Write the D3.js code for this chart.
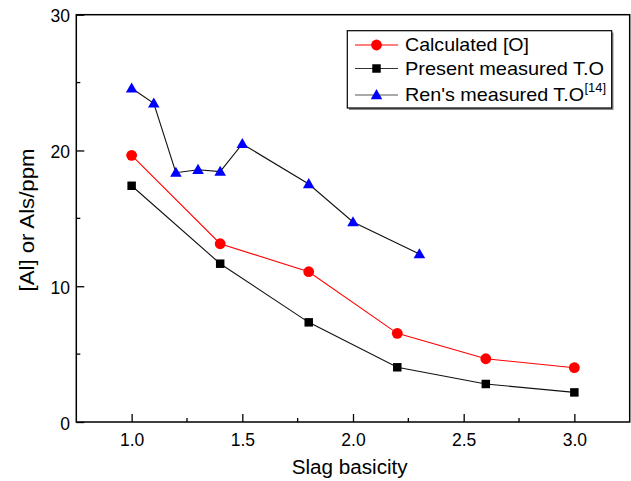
<!DOCTYPE html>
<html><head><meta charset="utf-8">
<script src="https://cdnjs.cloudflare.com/ajax/libs/d3/7.8.5/d3.min.js"></script>
<style>body{margin:0;background:#fff;}svg{display:block;font-family:"Liberation Sans",Arial,sans-serif;}</style>
</head><body>
<svg id="c" width="631" height="481"></svg>
<script>
const basicity = [1.0, 1.4, 1.8, 2.2, 2.6, 3.0];
const calculatedO = [19.64, 13.13, 11.07, 6.53, 4.66, 4.0];
const presentTO = [17.4, 11.66, 7.34, 4.03, 2.8, 2.18];
const renBasicity = [1.0, 1.1, 1.2, 1.3, 1.4, 1.5, 1.8, 2.0, 2.3];
const renTO = [24.58, 23.47, 18.36, 18.58, 18.44, 20.48, 17.53, 14.73, 12.37];
const xTicks = [1.0, 1.5, 2.0, 2.5, 3.0];
const yTicks = [0, 10, 20, 30];

const svg = d3.select("#c");
const L = 76.3, R = 629.7, T = 14.7, B = 422;
const x = d3.scaleLinear().domain([0.75, 3.25]).range([L, R]);
const y = d3.scaleLinear().domain([0, 30]).range([B, T]);

// minor ticks
const xMinor = d3.range(1.25, 3.25, 0.5);
const yMinor = [5, 15, 25];
const g = svg.append("g");
xMinor.forEach(v => g.append("line").attr("x1", x(v)).attr("x2", x(v)).attr("y1", B).attr("y2", B - 4).attr("stroke", "#000").attr("stroke-width", 1.3));
yMinor.forEach(v => g.append("line").attr("x1", L).attr("x2", L + 4).attr("y1", y(v)).attr("y2", y(v)).attr("stroke", "#000").attr("stroke-width", 1.3));

const xAxis = svg.append("g").attr("transform", `translate(0,${B})`)
  .call(d3.axisBottom(x).tickValues(xTicks).tickFormat(d3.format(".1f")).tickSizeInner(-8).tickSizeOuter(0));
const yAxis = svg.append("g").attr("transform", `translate(${L},0)`)
  .call(d3.axisLeft(y).tickValues(yTicks).tickFormat(d3.format("d")).tickSizeInner(-8).tickSizeOuter(0));
[xAxis, yAxis].forEach(a => {
  a.select(".domain").remove();
  a.selectAll("line").attr("stroke", "#000").attr("stroke-width", 1.3);
  a.selectAll("text").attr("font-size", 17.5).attr("fill", "#000").attr("font-family", "Liberation Sans, Arial, sans-serif");
});
xAxis.selectAll("text").attr("y", 24).attr("dy", null);
yAxis.selectAll("text").attr("x", -6.3).attr("dy", "0.4em");

svg.append("rect").attr("x", L).attr("y", T).attr("width", R - L).attr("height", B - T)
  .attr("fill", "none").attr("stroke", "#000").attr("stroke-width", 1.5);

// axis titles
svg.append("text").attr("x", 349.7).attr("y", 474.3).attr("text-anchor", "middle")
  .attr("font-size", 19.5).attr("textLength", 116).attr("lengthAdjust", "spacingAndGlyphs").text("Slag basicity");
svg.append("text").attr("transform", `translate(34,220) rotate(-90)`).attr("text-anchor", "middle")
  .attr("font-size", 19.5).attr("textLength", 143).attr("lengthAdjust", "spacingAndGlyphs").text("[Al] or Als/ppm");

const line = d3.line().x(d => x(d[0])).y(d => y(d[1]));
const redData = basicity.map((b, i) => [b, calculatedO[i]]);
const blackData = basicity.map((b, i) => [b, presentTO[i]]);
const blueData = renBasicity.map((b, i) => [b, renTO[i]]);

svg.append("path").datum(blueData).attr("d", line).attr("fill", "none").attr("stroke", "#111").attr("stroke-width", 1.1);
svg.append("path").datum(blackData).attr("d", line).attr("fill", "none").attr("stroke", "#111").attr("stroke-width", 1.1);
svg.append("path").datum(redData).attr("d", line).attr("fill", "none").attr("stroke", "#ff0000").attr("stroke-width", 1.1);

const tri = d3.symbol().type(d3.symbolTriangle).size(58);
const sq = d3.symbol().type(d3.symbolSquare).size(72);
svg.selectAll(".bt").data(blueData).enter().append("path")
  .attr("transform", d => `translate(${x(d[0])},${y(d[1]) + 0.8})`).attr("d", tri).attr("fill", "#0000ff");
svg.selectAll(".bs").data(blackData).enter().append("path")
  .attr("transform", d => `translate(${x(d[0])},${y(d[1])})`).attr("d", sq).attr("fill", "#000");
svg.selectAll(".rc").data(redData).enter().append("circle")
  .attr("cx", d => x(d[0])).attr("cy", d => y(d[1])).attr("r", 5.4).attr("fill", "#ff0000");

// legend
const lg = svg.append("g");
lg.append("rect").attr("x", 349).attr("y", 32.5).attr("width", 264.5).attr("height", 77.5).attr("fill", "#888");
lg.append("rect").attr("x", 347.3).attr("y", 30.7).attr("width", 264.4).attr("height", 77.3).attr("fill", "#fff").attr("stroke", "#000").attr("stroke-width", 1.2);
const items = [
  {label: "Calculated [O]", w: 124, color: "#ff0000", lc: "#ff0000", m: "circle", y: 45},
  {label: "Present measured T.O", w: 199, color: "#000", lc: "#333", m: "square", y: 68.5},
  {label: "Ren's measured T.O", w: 179, sup: "[14]", color: "#0000ff", lc: "#555", m: "tri", y: 95}
];
items.forEach(it => {
  lg.append("line").attr("x1", 355).attr("x2", 398).attr("y1", it.y).attr("y2", it.y).attr("stroke", it.lc).attr("stroke-width", 1.2);
  if (it.m === "circle") lg.append("circle").attr("cx", 376.5).attr("cy", it.y).attr("r", 5.4).attr("fill", it.color);
  else if (it.m === "square") lg.append("path").attr("transform", `translate(376.5,${it.y})`).attr("d", sq).attr("fill", it.color);
  else lg.append("path").attr("transform", `translate(376.5,${it.y + 0.8})`).attr("d", tri).attr("fill", it.color);
  lg.append("text").attr("x", 405).attr("y", it.y + 6.3).attr("font-size", 18.5)
    .attr("textLength", it.w).attr("lengthAdjust", "spacingAndGlyphs").text(it.label);
  if (it.sup) lg.append("text").attr("x", 405 + it.w + 0.5).attr("y", it.y - 3).attr("font-size", 12)
    .attr("textLength", 21.5).attr("lengthAdjust", "spacingAndGlyphs").text(it.sup);
});
</script>
</body></html>
